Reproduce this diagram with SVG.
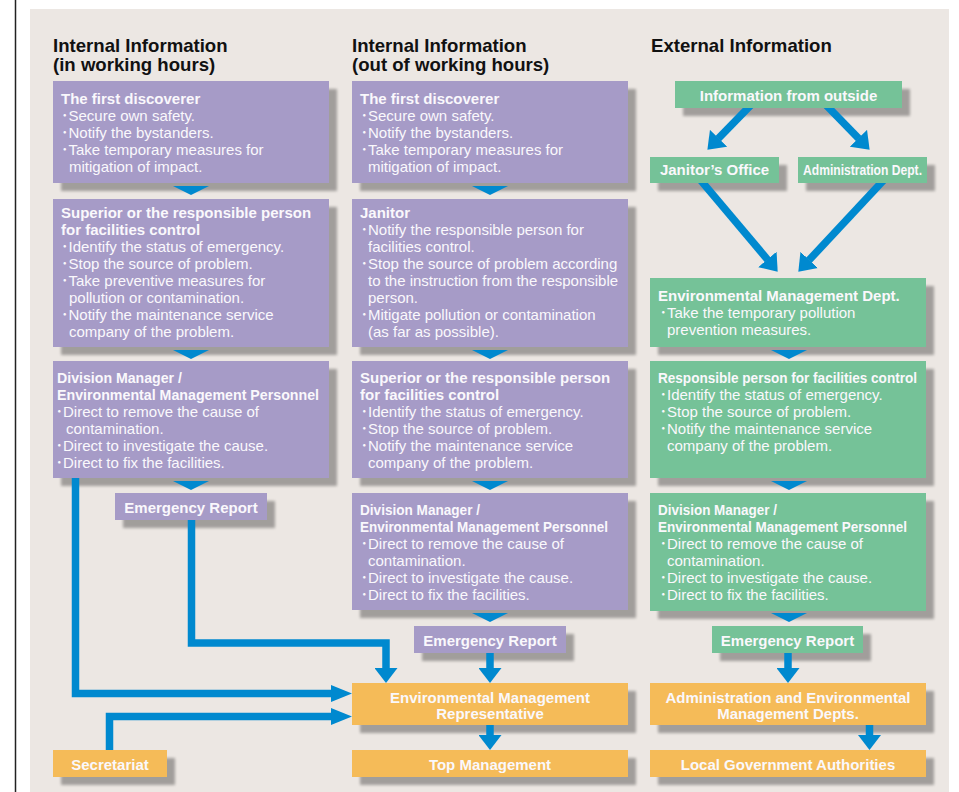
<svg xmlns="http://www.w3.org/2000/svg" width="959" height="792" viewBox="0 0 959 792">
<defs>
<style>
.pu{fill:#A69BC7}
.gr{fill:#74C298}
.or{fill:#F5BB59}
.bx{filter:url(#sh)}
.t{font-family:"Liberation Sans",Arial,sans-serif;font-weight:bold;font-size:15px;fill:#FAF8FC}
.b{font-family:"Liberation Sans","Noto Sans CJK JP",sans-serif;font-size:15px;fill:#FAF8FC}
.h{font-family:"Liberation Sans",Arial,sans-serif;font-weight:bold;font-size:18.6px;fill:#111}
.c{text-anchor:middle}
.ln{fill:none;stroke:#0089CF;stroke-width:7.5}
.tri{fill:#0089CF}
</style>
<filter id="sh" x="-10%" y="-20%" width="130%" height="190%">
<feGaussianBlur in="SourceAlpha" stdDeviation="1.5"/>
<feOffset dx="8" dy="8"/>
<feComponentTransfer><feFuncA type="linear" slope="0.32"/></feComponentTransfer>
<feMerge><feMergeNode/><feMergeNode in="SourceGraphic"/></feMerge>
</filter>
<marker id="ahV" markerUnits="userSpaceOnUse" markerWidth="15" markerHeight="23" viewBox="0 0 15 23" refX="0.5" refY="11.5" orient="auto"><path d="M0,0 L15,11.5 L0,23 z" fill="#0089CF"/></marker>
<marker id="ahH" markerUnits="userSpaceOnUse" markerWidth="21" markerHeight="17" viewBox="0 0 21 17" refX="0.5" refY="8.5" orient="auto"><path d="M0,0 L21,8.5 L0,17 z" fill="#0089CF"/></marker>
<marker id="ahD" markerUnits="userSpaceOnUse" markerWidth="16" markerHeight="24" viewBox="0 0 16 24" refX="0.5" refY="12" orient="auto"><path d="M0,0 L16,12 L0,24 z" fill="#0089CF"/></marker>
<clipPath id="cTop"><rect x="600" y="108" width="359" height="60"/></clipPath>
<clipPath id="cMid"><rect x="600" y="183" width="359" height="100"/></clipPath>
</defs>

<rect x="0" y="0" width="959" height="792" fill="#FFFFFF"/>
<rect x="30" y="9" width="919" height="783" fill="#ECE7E3"/>
<line x1="15.5" y1="0" x2="15.5" y2="792" stroke="#222" stroke-width="1.5"/>

<g id="headers">
<text class="h" x="53" y="52">Internal Information</text>
<text class="h" x="53" y="71">(in working hours)</text>
<text class="h" x="352" y="52">Internal Information</text>
<text class="h" x="352" y="71">(out of working hours)</text>
<text class="h" x="651" y="52">External Information</text>
</g>

<!-- Column 1 -->
<g id="c1-discoverer">
<rect class="pu bx" x="53" y="81" width="276" height="102"/>
<text class="t" x="61" y="104">The first discoverer</text>
<text class="b" x="61" y="121">･Secure own safety.</text>
<text class="b" x="61" y="138">･Notify the bystanders.</text>
<text class="b" x="61" y="155">･Take temporary measures for</text>
<text class="b" x="69" y="172">mitigation of impact.</text>
</g>
<g id="c1-superior">
<rect class="pu bx" x="53" y="199" width="276" height="148"/>
<text class="t" x="61" y="218">Superior or the responsible person</text>
<text class="t" x="61" y="235">for facilities control</text>
<text class="b" x="61" y="252">･Identify the status of emergency.</text>
<text class="b" x="61" y="269">･Stop the source of problem.</text>
<text class="b" x="61" y="286">･Take preventive measures for</text>
<text class="b" x="69" y="303">pollution or contamination.</text>
<text class="b" x="61" y="320">･Notify the maintenance service</text>
<text class="b" x="69" y="337">company of the problem.</text>
</g>
<g id="c1-division">
<rect class="pu bx" x="53" y="361" width="276" height="117"/>
<text class="t" x="57" y="383" textLength="125" lengthAdjust="spacingAndGlyphs">Division Manager /</text>
<text class="t" x="57" y="400" textLength="262" lengthAdjust="spacingAndGlyphs">Environmental Management Personnel</text>
<text class="b" x="55.5" y="417">･Direct to remove the cause of</text>
<text class="b" x="66" y="434">contamination.</text>
<text class="b" x="55.5" y="451">･Direct to investigate the cause.</text>
<text class="b" x="55.5" y="468">･Direct to fix the facilities.</text>
</g>
<g id="c1-report">
<rect class="pu bx" x="115" y="493" width="152" height="27"/>
<text class="t c" x="191" y="512.5">Emergency Report</text>
</g>
<g id="secretariat">
<rect class="or bx" x="53" y="750" width="114" height="27"/>
<text class="t c" x="110" y="770">Secretariat</text>
</g>

<!-- Column 2 -->
<g id="c2-discoverer">
<rect class="pu bx" x="352" y="81" width="276" height="102"/>
<text class="t" x="360" y="104">The first discoverer</text>
<text class="b" x="360.5" y="121">･Secure own safety.</text>
<text class="b" x="360.5" y="138">･Notify the bystanders.</text>
<text class="b" x="360.5" y="155">･Take temporary measures for</text>
<text class="b" x="368" y="172">mitigation of impact.</text>
</g>
<g id="c2-janitor">
<rect class="pu bx" x="352" y="199" width="276" height="148"/>
<text class="t" x="360" y="218">Janitor</text>
<text class="b" x="360.5" y="235">･Notify the responsible person for</text>
<text class="b" x="368" y="252">facilities control.</text>
<text class="b" x="360.5" y="269">･Stop the source of problem according</text>
<text class="b" x="368" y="286">to the instruction from the responsible</text>
<text class="b" x="368" y="303">person.</text>
<text class="b" x="360.5" y="320">･Mitigate pollution or contamination</text>
<text class="b" x="368" y="337">(as far as possible).</text>
</g>
<g id="c2-superior">
<rect class="pu bx" x="352" y="361" width="276" height="117"/>
<text class="t" x="360" y="383">Superior or the responsible person</text>
<text class="t" x="360" y="400">for facilities control</text>
<text class="b" x="360.5" y="417">･Identify the status of emergency.</text>
<text class="b" x="360.5" y="434">･Stop the source of problem.</text>
<text class="b" x="360.5" y="451">･Notify the maintenance service</text>
<text class="b" x="368" y="468">company of the problem.</text>
</g>
<g id="c2-division">
<rect class="pu bx" x="352" y="493" width="276" height="117"/>
<text class="t" x="360" y="515" textLength="120" lengthAdjust="spacingAndGlyphs">Division Manager /</text>
<text class="t" x="360" y="532" textLength="248" lengthAdjust="spacingAndGlyphs">Environmental Management Personnel</text>
<text class="b" x="360.5" y="549">･Direct to remove the cause of</text>
<text class="b" x="368" y="566">contamination.</text>
<text class="b" x="360.5" y="583">･Direct to investigate the cause.</text>
<text class="b" x="360.5" y="600">･Direct to fix the facilities.</text>
</g>
<g id="c2-report">
<rect class="pu bx" x="414" y="626" width="152" height="27"/>
<text class="t c" x="490" y="646">Emergency Report</text>
</g>
<g id="emr">
<rect class="or bx" x="352" y="683" width="276" height="42"/>
<text class="t c" x="490" y="703">Environmental Management</text>
<text class="t c" x="490" y="719">Representative</text>
</g>
<g id="top-management">
<rect class="or bx" x="352" y="750" width="276" height="27"/>
<text class="t c" x="490" y="770">Top Management</text>
</g>

<!-- Column 3 -->
<g id="c3-outside">
<rect class="gr bx" x="675" y="81" width="227" height="27"/>
<text class="t c" x="788.5" y="101">Information from outside</text>
</g>
<g id="c3-janitor-office">
<rect class="gr bx" x="650" y="157" width="129" height="26"/>
<text class="t c" x="714.5" y="175">Janitor’s Office</text>
</g>
<g id="c3-admin-dept">
<rect class="gr bx" x="798" y="157" width="129" height="26"/>
<text class="t c" x="862.5" y="175" textLength="119" lengthAdjust="spacingAndGlyphs">Administration Dept.</text>
</g>
<g id="c3-emd">
<rect class="gr bx" x="650" y="278" width="276" height="69"/>
<text class="t" x="658" y="301">Environmental Management Dept.</text>
<text class="b" x="659.5" y="318">･Take the temporary pollution</text>
<text class="b" x="667" y="335">prevention measures.</text>
</g>
<g id="c3-responsible">
<rect class="gr bx" x="650" y="361" width="276" height="117"/>
<text class="t" x="658" y="383" textLength="259" lengthAdjust="spacingAndGlyphs">Responsible person for facilities control</text>
<text class="b" x="659.5" y="400">･Identify the status of emergency.</text>
<text class="b" x="659.5" y="417">･Stop the source of problem.</text>
<text class="b" x="659.5" y="434">･Notify the maintenance service</text>
<text class="b" x="667" y="451">company of the problem.</text>
</g>
<g id="c3-division">
<rect class="gr bx" x="650" y="493" width="276" height="118"/>
<text class="t" x="658" y="515" textLength="119" lengthAdjust="spacingAndGlyphs">Division Manager /</text>
<text class="t" x="658" y="532" textLength="249" lengthAdjust="spacingAndGlyphs">Environmental Management Personnel</text>
<text class="b" x="659.5" y="549">･Direct to remove the cause of</text>
<text class="b" x="667" y="566">contamination.</text>
<text class="b" x="659.5" y="583">･Direct to investigate the cause.</text>
<text class="b" x="659.5" y="600">･Direct to fix the facilities.</text>
</g>
<g id="c3-report">
<rect class="gr bx" x="712" y="626" width="151" height="27"/>
<text class="t c" x="787.5" y="646">Emergency Report</text>
</g>
<g id="c3-admin-env">
<rect class="or bx" x="650" y="683" width="276" height="42"/>
<text class="t c" x="788" y="703">Administration and Environmental</text>
<text class="t c" x="788" y="719">Management Depts.</text>
</g>
<g id="c3-local-gov">
<rect class="or bx" x="650" y="750" width="276" height="27"/>
<text class="t c" x="788" y="770">Local Government Authorities</text>
</g>

<g id="connectors">
<polygon class="tri" points="173,186 209,186 191,195"/>
<polygon class="tri" points="173,350 209,350 191,359"/>
<polygon class="tri" points="173,481 209,481 191,490"/>
<polygon class="tri" points="472,186 508,186 490,195"/>
<polygon class="tri" points="472,350 508,350 490,359"/>
<polygon class="tri" points="472,481 508,481 490,490"/>
<polygon class="tri" points="472,613 508,613 490,622"/>
<polygon class="tri" points="771,350 807,350 789,359"/>
<polygon class="tri" points="771,481 807,481 789,490"/>
<polygon class="tri" points="771,613 807,613 789,622"/>
<path class="ln" d="M75.5,478 V693.5 H331.5" marker-end="url(#ahH)"/>
<path class="ln" d="M191.5,520 V643 H386 V668.5" marker-end="url(#ahV)"/>
<path class="ln" d="M109.5,750 V716.5 H331.5" marker-end="url(#ahH)"/>
<path class="ln" d="M490,653 V668.5" marker-end="url(#ahV)"/>
<path class="ln" d="M490,725 V735.5" marker-end="url(#ahV)"/>
<path class="ln" d="M788,653 V668.5" marker-end="url(#ahV)"/>
<path class="ln" d="M869.5,725 V735.5" marker-end="url(#ahV)"/>
<path class="ln" d="M755,100.85 L718.2,138.6" marker-end="url(#ahD)" clip-path="url(#cTop)"/>
<path class="ln" d="M822,100.85 L858.8,138.6" marker-end="url(#ahD)" clip-path="url(#cTop)"/>
<path class="ln" d="M696.6,175.4 L767.7,259.8" marker-end="url(#ahD)" clip-path="url(#cMid)"/>
<path class="ln" d="M887.8,175.7 L808.9,260.3" marker-end="url(#ahD)" clip-path="url(#cMid)"/>
</g>
</svg>
